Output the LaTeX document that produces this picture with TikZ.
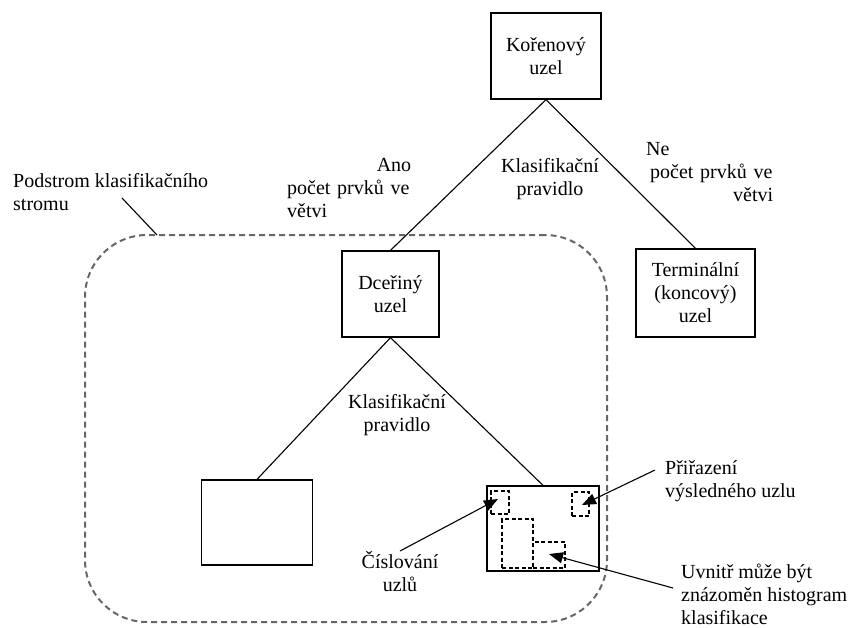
\documentclass[tikz,border=0pt]{standalone}
\usepackage{fontspec}
\setmainfont{Liberation Serif}
\usetikzlibrary{arrows.meta}
\begin{document}
\begin{tikzpicture}[x=1pt,y=-1pt,
  every node/.style={font=\fontsize{20}{23}\selectfont, inner sep=0pt},
  treebox/.style={draw=black, line width=1.3pt, align=center},
  branch/.style={draw=black, line width=1.1pt},
  label/.style={align=center},
  subtree/.style={draw=black!60, line width=2pt, dash pattern=on 6pt off 4pt, rounded corners=62pt},
  markbox/.style={draw=black, line width=1.1pt, dash pattern=on 4pt off 2.5pt},
  pointer/.style={draw=black, line width=1.1pt, -{Triangle[length=14pt,width=11pt]}}]
\useasboundingbox (0,0) rectangle (859,627);

% dashed region of the subtree
\node[subtree, minimum width=522pt, minimum height=387pt] (sub) at (346,428.5) {};
\coordinate (subtop) at (157,235);

% tree nodes
\node[treebox, minimum width=110pt, minimum height=86pt] (root) at (546,56) {Kořenový\\uzel};
\node[treebox, minimum width=97pt, minimum height=86pt] (child) at (390.5,294) {Dceřiný\\uzel};
\node[treebox, minimum width=119pt, minimum height=88pt] (term) at (695.5,293) {Terminální\\(koncový)\\uzel};
\node[treebox, minimum width=111pt, minimum height=85pt] (leafL) at (257,522.5) {};
\node[treebox, minimum width=112pt, minimum height=85pt] (leafR) at (543,528.5) {};

% branches
\draw[branch] (root.south) -- (child.north);
\draw[branch] (root.south) -- (term.north);
\draw[branch] (child.south) -- (leafL.north);
\draw[branch] (child.south) -- (leafR.north);

% marks inside the result leaf
\node[markbox, minimum width=18pt, minimum height=23pt] (numbox) at (500,502.5) {};
\node[markbox, minimum width=17pt, minimum height=24pt] (assignbox) at (580.5,504) {};
\node[markbox, minimum width=31pt, minimum height=49pt] (histA) at (517.5,543.5) {};
\node[markbox, minimum width=32pt, minimum height=26pt] (histB) at (549,555) {};

% texts (anchor base = last line; with text width = first line)
\node[label, anchor=base] (rule1) at (550,195) {Klasifikační\\pravidlo};
\node[align=left, text width=124pt, anchor=base west] (ano) at (287,171.7) {\hspace*{\fill}Ano\\počet prvků ve\\větvi};
\node[align=left, text width=127pt, anchor=base west] (ne) at (646,155) {Ne\\\hspace*{4pt}počet prvků ve\\\hspace*{\fill}větvi};
\node[align=left, anchor=base west] (podstrom) at (13,210) {Podstrom klasifikačního\\stromu};
\node[label, anchor=base] (rule2) at (397,431.5) {Klasifikační\\pravidlo};
\node[label, anchor=base] (cisl) at (400,591.5) {Číslování\\uzlů};
\node[align=left, anchor=base west] (prir) at (665,497) {Přiřazení\\výsledného uzlu};
\node[align=left, anchor=base west] (uvnitr) at (681,624) {Uvnitř může být\\znázoměn histogram\\klasifikace};

% leader lines
\coordinate (podstromEnd) at (122,198);
\coordinate (cislStart) at (400,551);
\coordinate (cislTip) at (498,499);
\coordinate (prirStart) at (655,470);
\coordinate (prirTip) at (582,505);
\coordinate (uvnitrStart) at (673,588);
\coordinate (uvnitrTip) at (549,554);
\draw[branch] (podstromEnd) -- (subtop);
\draw[pointer] (cislStart) -- (cislTip);
\draw[pointer] (prirStart) -- (prirTip);
\draw[pointer] (uvnitrStart) -- (uvnitrTip);
\end{tikzpicture}
\end{document}
